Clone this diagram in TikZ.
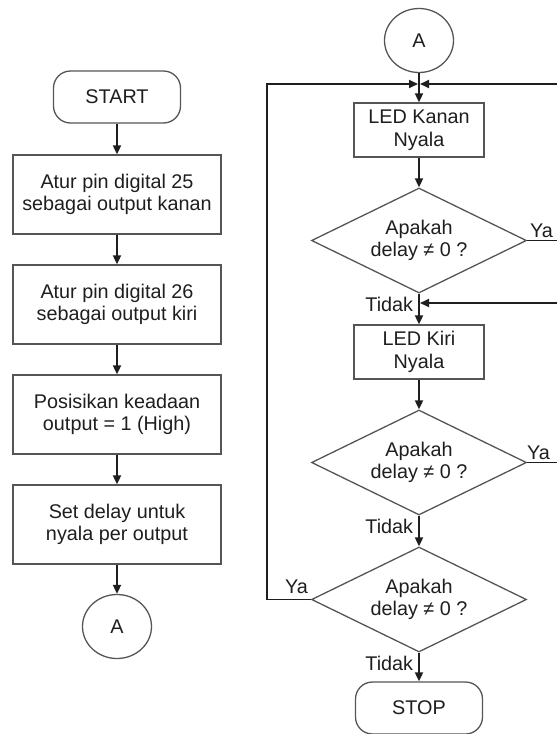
\documentclass[tikz,border=0pt]{standalone}
\usepackage{fontspec}
\setmainfont{Liberation Sans}
\usepackage{tikz}
\usetikzlibrary{arrows.meta, shapes.geometric}
\definecolor{boxGray}{HTML}{555555}
\definecolor{lineBlack}{HTML}{1E1E1E}

\begin{document}
\begin{tikzpicture}[x=1pt, y=-1pt,
    font=\fontsize{19.8}{22.7}\selectfont,
    every node/.style={text=lineBlack},
    terminal/.style={draw=boxGray, line width=1.3pt, rounded corners=17pt,
        minimum width=127pt, minimum height=52pt},
    process/.style={draw=boxGray, line width=1.3pt, align=center,
        minimum width=208pt, minimum height=79pt},
    ledbox/.style={process, minimum width=130pt, minimum height=54pt},
    decision/.style={draw=boxGray, line width=1.3pt, diamond, aspect=2,
        inner sep=0pt, align=center, minimum width=215pt, minimum height=105pt},
    connector/.style={draw=boxGray, line width=1.3pt, ellipse, inner sep=0pt,
        minimum width=69pt, minimum height=64pt},
    flow/.style={draw=lineBlack, line width=1.8pt, -{Triangle[length=9pt, width=8pt]}},
    answer/.style={inner sep=2pt},
    tidak/.style={anchor=north east, inner sep=3pt, xshift=-2pt}]
    \path[use as bounding box, clip] (0,0) rectangle (557,734);

    % left column
    \node[terminal] (start) at (117,97) {START};
    \node[process] (pinKanan) at (117,194.5) {Atur pin digital 25\\sebagai output kanan};
    \node[process] (pinKiri) at (117,304.5) {Atur pin digital 26\\sebagai output kiri};
    \node[process] (posisi) at (117,414.5) {Posisikan keadaan\\output = 1 (High)};
    \node[process] (setDelay) at (117,524.5) {Set delay untuk\\nyala per output};
    \node[connector] (aOut) at (117,626.5) {A};

    \draw[flow] (start) -- (pinKanan);
    \draw[flow] (pinKanan) -- (pinKiri);
    \draw[flow] (pinKiri) -- (posisi);
    \draw[flow] (posisi) -- (setDelay);
    \draw[flow] (setDelay) -- (aOut);

    % right column
    \node[connector] (aIn) at (419,40.5) {A};
    \node[ledbox] (ledKanan) at (419,130) {LED Kanan\\Nyala};
    \node[decision] (cekKanan) at (419,240.5) {Apakah\\delay ≠ 0 ?};
    \node[ledbox] (ledKiri) at (419,352) {LED Kiri\\Nyala};
    \node[decision] (cekKiri) at (419,462.5) {Apakah\\delay ≠ 0 ?};
    \node[decision] (cekUlang) at (419,599.5) {Apakah\\delay ≠ 0 ?};
    \node[terminal] (stop) at (419,708) {STOP};

    \coordinate (joinTop) at (419,84);
    \coordinate (joinMid) at (419,303);
    \coordinate (loopLeft) at (267,0);
    \coordinate (loopRight) at (562,0);

    \draw[flow] (aIn) -- (ledKanan);
    \draw[flow] (ledKanan) -- (cekKanan);
    \draw[flow] (cekKanan) -- node[tidak, pos=0] {Tidak} (ledKiri);
    \draw[flow] (ledKiri) -- (cekKiri);
    \draw[flow] (cekKiri) -- node[tidak, pos=0] {Tidak} (cekUlang);
    \draw[flow] (cekUlang) -- node[tidak, pos=0] {Tidak} (stop);

    % loops back
    \draw[flow] (cekKanan.east) node[answer, anchor=south west] {Ya}
        -- (cekKanan.east -| loopRight) -- (loopRight |- joinTop) -- ([xshift=1pt]joinTop);
    \draw[flow] (cekKiri.east) node[answer, anchor=south west, xshift=-3pt] {Ya}
        -- (cekKiri.east -| loopRight) -- (loopRight |- joinMid) -- ([xshift=1pt]joinMid);
    \draw[flow] (cekUlang.west) node[answer, anchor=south east, inner ysep=5pt] {Ya}
        -- (cekUlang.west -| loopLeft) -- (loopLeft |- joinTop) -- ([xshift=-1pt]joinTop);
\end{tikzpicture}
\end{document}
